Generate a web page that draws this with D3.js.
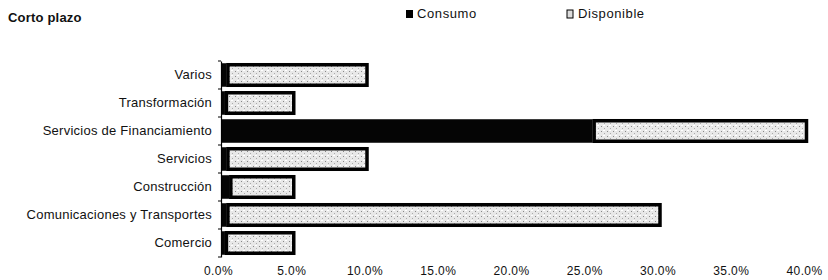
<!DOCTYPE html>
<html>
<head>
<meta charset="utf-8">
<script src="https://cdn.jsdelivr.net/npm/d3@7"></script>
<style>
  body { margin: 0; background: #fff; }
  text { font-family: "Liberation Sans", Arial, sans-serif; fill: #111; }
</style>
</head>
<body>
<div id="chart"></div>
<script>
const categories = ['Varios', 'Transformación', 'Servicios de Financiamiento', 'Servicios',
  'Construcción', 'Comunicaciones y Transportes', 'Comercio'];
const consumo = [0.3, 0.2, 25.3, 0.3, 0.5, 0.3, 0.2];
const disponible = [9.7, 4.8, 14.7, 9.7, 4.5, 29.7, 4.8];
const xTicks = [0, 5, 10, 15, 20, 25, 30, 35, 40];

const width = 828, height = 280;
const margin = {t: 61, r: 20, b: 23, l: 222};
const font = '"Liberation Sans", Arial, sans-serif';

const svg = d3.select('#chart').append('svg')
  .attr('width', width)
  .attr('height', height);

// speckled light fill for "Disponible"
const defs = svg.append('defs');
const pat = defs.append('pattern')
  .attr('id', 'speck')
  .attr('patternUnits', 'userSpaceOnUse')
  .attr('width', 6).attr('height', 5);
pat.append('rect').attr('width', 6).attr('height', 5).attr('fill', '#e8e8e8');
pat.append('rect').attr('x', 1).attr('y', 1).attr('width', 1).attr('height', 1).attr('fill', '#888');
pat.append('rect').attr('x', 4).attr('y', 3).attr('width', 1).attr('height', 1).attr('fill', '#aaa');
pat.append('rect').attr('x', 3).attr('y', 0).attr('width', 2).attr('height', 1).attr('fill', '#fff');

const x = d3.scaleLinear().domain([0, 40]).range([margin.l, 808]);
const y = d3.scaleBand().domain(categories).range([margin.t, height - margin.b]).paddingInner(0.16).paddingOuter(0.08);

// title & legend
svg.append('text').attr('x', 8).attr('y', 22).attr('font-size', 13).attr('font-weight', 'bold')
  .attr('letter-spacing', 0.2).text('Corto plazo');
svg.append('rect').attr('x', 406).attr('y', 10).attr('width', 7).attr('height', 8).attr('fill', '#000');
svg.append('text').attr('x', 417).attr('y', 18).attr('font-size', 13).attr('letter-spacing', 0.6).text('Consumo');
svg.append('rect').attr('x', 567).attr('y', 10).attr('width', 6).attr('height', 8)
  .attr('fill', '#ddd').attr('stroke', '#000').attr('stroke-width', 1);
svg.append('text').attr('x', 578).attr('y', 18).attr('font-size', 13).attr('letter-spacing', 0.6).text('Disponible');

const rows = svg.append('g').selectAll('g')
  .data(categories)
  .join('g');

// consumo bars
rows.append('rect')
  .attr('x', x(0))
  .attr('y', d => y(d))
  .attr('width', (d, i) => x(consumo[i]) - x(0))
  .attr('height', y.bandwidth())
  .attr('fill', '#050505');

// disponible bars
rows.append('rect')
  .attr('x', (d, i) => x(consumo[i]) + 1.5)
  .attr('y', d => y(d) + 1.5)
  .attr('width', (d, i) => x(consumo[i] + disponible[i]) - x(consumo[i]) - 3)
  .attr('height', y.bandwidth() - 3)
  .attr('fill', 'url(#speck)')
  .attr('stroke', '#000')
  .attr('stroke-width', 3.5);

// y axis
const yAxis = svg.append('g')
  .attr('transform', `translate(${margin.l - 1},0)`)
  .call(d3.axisLeft(y).tickSize(0).tickPadding(9));
yAxis.select('.domain').attr('stroke', '#000').attr('stroke-width', 1.2);
yAxis.selectAll('text').attr('font-size', 13).attr('fill', '#111')
  .attr('letter-spacing', 0.25)
  .style('font-family', font);

// boundary ticks on the category axis
const bounds = categories.map(c => y(c) - y.step() * y.paddingInner() / 2).concat([height - margin.b]);
svg.append('g').selectAll('line')
  .data(bounds)
  .join('line')
  .attr('x1', margin.l - 4).attr('x2', margin.l - 1)
  .attr('y1', d => d).attr('y2', d => d)
  .attr('stroke', '#000').attr('stroke-width', 1);

// x tick labels
const xAxis = svg.append('g')
  .attr('transform', `translate(-4,${height - 17})`)
  .call(d3.axisBottom(x).tickValues(xTicks).tickSize(0).tickFormat(d => d3.format('.1f')(d) + '%'));
xAxis.select('.domain').remove();
xAxis.selectAll('text').attr('font-size', 12).attr('fill', '#111')
  .attr('letter-spacing', 0.4)
  .style('font-family', font);
</script>
</body>
</html>
